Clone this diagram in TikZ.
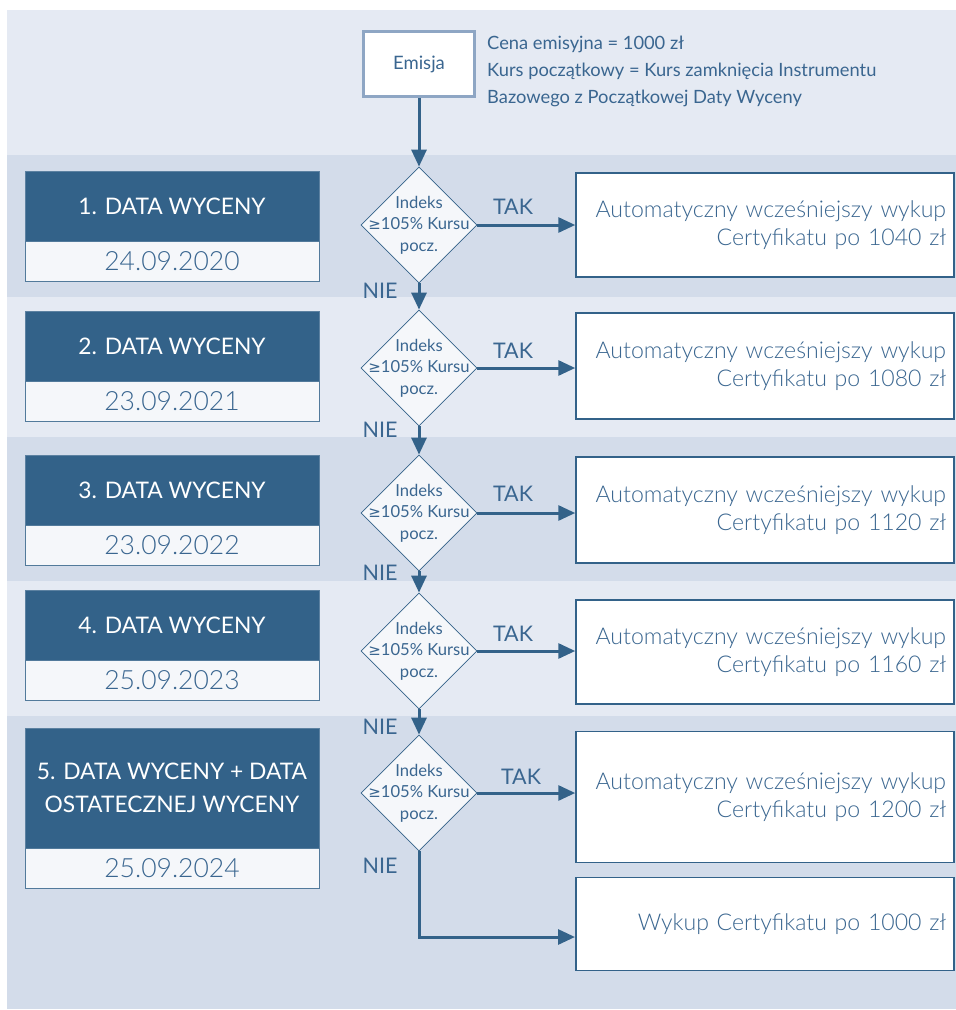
\documentclass[tikz,border=0pt]{standalone}
\usepackage{fontspec}
\setmainfont{Lato}
\IfFontExistsTF{Lato Light}{\newfontfamily\lightf{Lato Light}}{\newfontfamily\lightf{Lato}}
\newfontfamily\symf{DejaVu Sans}
\usetikzlibrary{shapes.geometric,arrows.meta}
\definecolor{bandL}{HTML}{E5EAF3}
\definecolor{bandD}{HTML}{D3DCEA}
\definecolor{hdr}{HTML}{336289}
\definecolor{txt}{HTML}{3A6690}
\definecolor{lite}{HTML}{F5F7FA}
\definecolor{emb}{HTML}{8EA6C4}
\begin{document}
\begin{tikzpicture}[x=1pt,y=-1pt,
  arr/.style={draw=hdr, line width=3pt, -{Triangle[length=17pt,width=15pt]}},
  dia/.style={diamond, draw=hdr, line width=0.8pt, fill=lite, minimum width=116pt, minimum height=116pt, inner sep=0pt},
  diat/.style={text=txt, align=center, font=\fontsize{16.6}{21.5}\selectfont, inner sep=0pt},
  rbox/.style={draw=hdr, line width=1.5pt, fill=white, text width=362pt, inner xsep=8pt, align=right, text=txt, font=\lightf\fontsize{23.1}{28}\selectfont},
  hbox/.style={fill=hdr, draw=hdr!80!white, line width=0.8pt, minimum width=294pt, text=white, font=\fontsize{22.8}{33}\selectfont, align=center, inner sep=0pt},
  dbox/.style={fill=lite, draw=hdr!85!white, line width=0.8pt, minimum width=294pt, minimum height=40pt, text=txt, font=\lightf\fontsize{26.5}{28}\selectfont, inner sep=0pt},
  lab/.style={text=txt, font=\fontsize{21.5}{24}\selectfont, inner sep=0pt}]
\useasboundingbox (0,0) rectangle (956,1010);
\fill[white] (0,0) rectangle (956,1010);
% bands
\fill[bandL] (7,10) rectangle (956,155);
\fill[bandD] (7,155) rectangle (956,297);
\fill[bandL] (7,297) rectangle (956,437);
\fill[bandD] (7,437) rectangle (956,581);
\fill[bandL] (7,581) rectangle (956,716);
\fill[bandD] (7,716) rectangle (956,1009);
% emisja
\node[draw=emb, line width=2.5pt, fill=white, minimum width=111pt, minimum height=65pt, text=txt, font=\fontsize{18.5}{20}\selectfont] (em) at (419,64) {Emisja};
\node[anchor=west, align=left, text=txt, font=\fontsize{18.3}{27}\selectfont, inner sep=0pt] (info) at (487,71) {Cena emisyjna = 1000 zł\\Kurs początkowy = Kurs zamknięcia Instrumentu\\Bazowego z Początkowej Daty Wyceny};
% diamonds
\node[dia] (d1) at (419,225) {};
\node[dia] (d2) at (419,368) {};
\node[dia] (d3) at (419,513) {};
\node[dia] (d4) at (419,651) {};
\node[dia] (d5) at (419,793) {};
\foreach \d in {d1,d2,d3,d4,d5}{
  \node[diat] at (\d) {Indeks\\{\symf\fontsize{15}{21}\selectfont ≥}105\% Kursu\\pocz.};
}
% right boxes
\node[rbox, minimum height=104pt] (r1) at (765,225) {Automatyczny wcześniejszy wykup\\Certyfikatu po 1040 zł};
\node[rbox, minimum height=106pt] (r2) at (765,366) {Automatyczny wcześniejszy wykup\\Certyfikatu po 1080 zł};
\node[rbox, minimum height=106pt] (r3) at (765,510) {Automatyczny wcześniejszy wykup\\Certyfikatu po 1120 zł};
\node[rbox, minimum height=104pt] (r4) at (765,652) {Automatyczny wcześniejszy wykup\\Certyfikatu po 1160 zł};
\node[rbox, minimum height=131pt] (r5) at (765,797) {Automatyczny wcześniejszy wykup\\Certyfikatu po 1200 zł};
\node[rbox, minimum height=93pt] (r6) at (765,924) {Wykup Certyfikatu po 1000 zł};
% left boxes
\node[hbox, minimum height=70pt] (h1) at (172,206) {1. DATA WYCENY};
\node[dbox] (t1) at (172,261) {24.09.2020};
\node[hbox, minimum height=70pt] (h2) at (172,346) {2. DATA WYCENY};
\node[dbox] (t2) at (172,401) {23.09.2021};
\node[hbox, minimum height=70pt] (h3) at (172,490) {3. DATA WYCENY};
\node[dbox] (t3) at (172,545) {23.09.2022};
\node[hbox, minimum height=70pt] (h4) at (172,625) {4. DATA WYCENY};
\node[dbox] (t4) at (172,680) {25.09.2023};
\node[hbox, minimum height=120pt] (h5) at (172,788) {5. DATA WYCENY + DATA\\OSTATECZNEJ WYCENY};
\node[dbox] (t5) at (172,868) {25.09.2024};
% arrows
\draw[arr] (em.south) -- (d1.north);
\draw[arr] (d1.south) -- (d2.north);
\draw[arr] (d2.south) -- (d3.north);
\draw[arr] (d3.south) -- (d4.north);
\draw[arr] (d4.south) -- (d5.north);
\draw[arr] (d1.east) -- (d1.east -| r1.west);
\draw[arr] (d2.east) -- (d2.east -| r2.west);
\draw[arr] (d3.east) -- (d3.east -| r3.west);
\draw[arr] (d4.east) -- (d4.east -| r4.west);
\draw[arr] (d5.east) -- (d5.east -| r5.west);
\coordinate (c6) at (575,937);
\draw[arr] (d5.south) |- (c6);
% labels
\node[lab] (tak1) at (513,207) {TAK};
\node[lab] (tak2) at (513,351) {TAK};
\node[lab] (tak3) at (513,494) {TAK};
\node[lab] (tak4) at (513,634) {TAK};
\node[lab] (tak5) at (521,777) {TAK};
\node[lab] (nie1) at (380,291) {NIE};
\node[lab] (nie2) at (380,430) {NIE};
\node[lab] (nie3) at (380,573) {NIE};
\node[lab] (nie4) at (380,727) {NIE};
\node[lab] (nie5) at (380,866) {NIE};
\end{tikzpicture}
\end{document}
